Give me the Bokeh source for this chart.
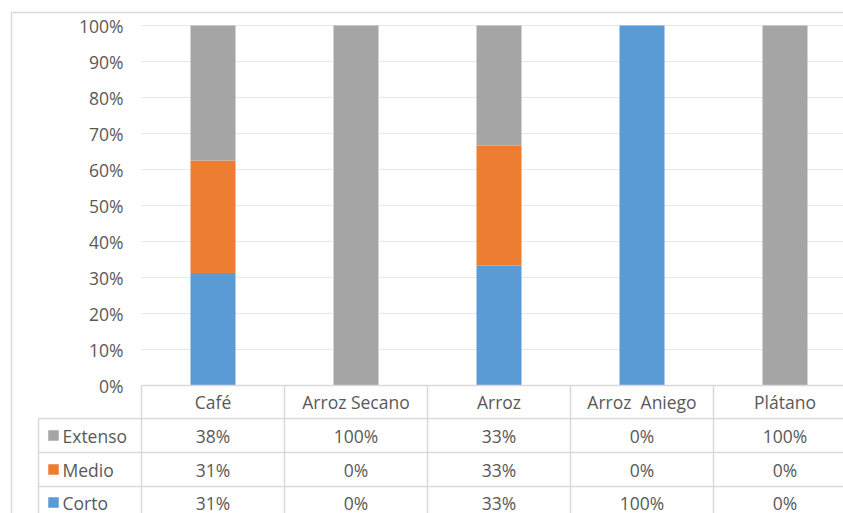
from bokeh.plotting import figure
from bokeh.models import Range1d, ColumnDataSource
from bokeh.core.properties import value
from bokeh.embed import file_html
from bokeh.resources import INLINE

# ---- data ----
categories = ["Café", "Arroz Secano", "Arroz", "Arroz  Aniego", "Plátano"]
corto = [31.25, 0, 33.33, 100, 0]
medio = [31.25, 0, 33.33, 0, 0]
extenso = [37.5, 100, 33.34, 0, 100]
series_names = ["Extenso", "Medio", "Corto"]
y_ticks = [0, 10, 20, 30, 40, 50, 60, 70, 80, 90, 100]
y_tick_labels = [f"{t}%" for t in y_ticks]

# ---- style ----
C_BLUE, C_ORANGE, C_GRAY = "#5B9BD5", "#ED7D31", "#A5A5A5"
series_colors = [C_GRAY, C_ORANGE, C_BLUE]
TXT = "#595959"
LINE = "#D9D9D9"
GRID = "#E1EAF3"
FONT = value("Open Sans")
FS = "17.5px"

W, H = 843, 513
X0_PX, CAT_PX = 141, 143          # left of plot area, category width
Y0_PX, PCT_PX = 385, 3.6          # 0% pixel row, pixels per percent

def dx(px):
    return (px - X0_PX) / CAT_PX

def dy(py):
    return (Y0_PX - py) / PCT_PX

p = figure(width=W, height=H, output_backend="svg", toolbar_location=None,
           x_range=Range1d(dx(0), dx(W)), y_range=Range1d(dy(H), dy(0)),
           min_border=0)
p.axis.visible = False
p.grid.visible = False
p.outline_line_color = None
p.background_fill_color = "white"
p.border_fill_color = "white"

n = len(categories)
xs = [i + 0.5 for i in range(n)]
shown_categories = [c.replace("  ", " \u00a0") for c in categories]

# gridlines
gt = [t for t in y_ticks if t > 0]
p.segment(x0=[0] * len(gt), x1=[dx(W + 20)] * len(gt), y0=gt, y1=gt,
          line_color=GRID, line_width=1)

# bars
src = ColumnDataSource(dict(x=xs, corto=corto, medio=medio, extenso=extenso))
p.vbar_stack(["corto", "medio", "extenso"], x="x", width=45 / CAT_PX,
             color=[C_BLUE, C_ORANGE, C_GRAY], line_color=None, source=src)

# y tick labels
p.text(x=[dx(123)] * len(y_ticks), y=y_ticks, text=y_tick_labels,
       text_align="right", text_baseline="middle", text_color=TXT,
       text_font=FONT, text_font_size=FS)

# outer chart border
p.segment(x0=[dx(11), dx(11)], y0=[dy(12), dy(12)],
          x1=[dx(W + 20), dx(11)], y1=[dy(12), dy(H + 20)],
          line_color=LINE, line_width=1.5)

# data table lines
row_tops = [dy(418), dy(452), dy(486)]
p.segment(x0=[0] + [dx(38)] * 3, x1=[dx(W + 20)] * 4,
          y0=[0] + row_tops, y1=[0] + row_tops, line_color=LINE, line_width=1.5)
p.segment(x0=list(range(n)) + [dx(38)], x1=list(range(n)) + [dx(38)],
          y0=[0] * n + [row_tops[0]], y1=[dy(H + 20)] * (n + 1),
          line_color=LINE, line_width=1.5)

# header (category names)
p.text(x=xs, y=[dy(401)] * n, text=shown_categories, text_align="center",
       text_baseline="middle", text_color=TXT, text_font=FONT, text_font_size=FS)

# rows
row_vals = [extenso, medio, corto]
row_centers = [dy(435), dy(469), dy(502)]
for name, vals, col, yc in zip(series_names, row_vals, series_colors, row_centers):
    p.text(x=xs, y=[yc] * n, text=[f"{v:.0f}%" for v in vals],
           text_align="center", text_baseline="middle", text_color=TXT,
           text_font=FONT, text_font_size=FS)
    p.scatter(x=[dx(53)], y=[yc], marker="square", size=10.5,
              fill_color=col, line_color=None)
    p.text(x=[dx(62)], y=[yc], text=[name], text_align="left",
           text_baseline="middle", text_color=TXT, text_font=FONT,
           text_font_size=FS)

open("out.html", "w").write(file_html(p, INLINE))
